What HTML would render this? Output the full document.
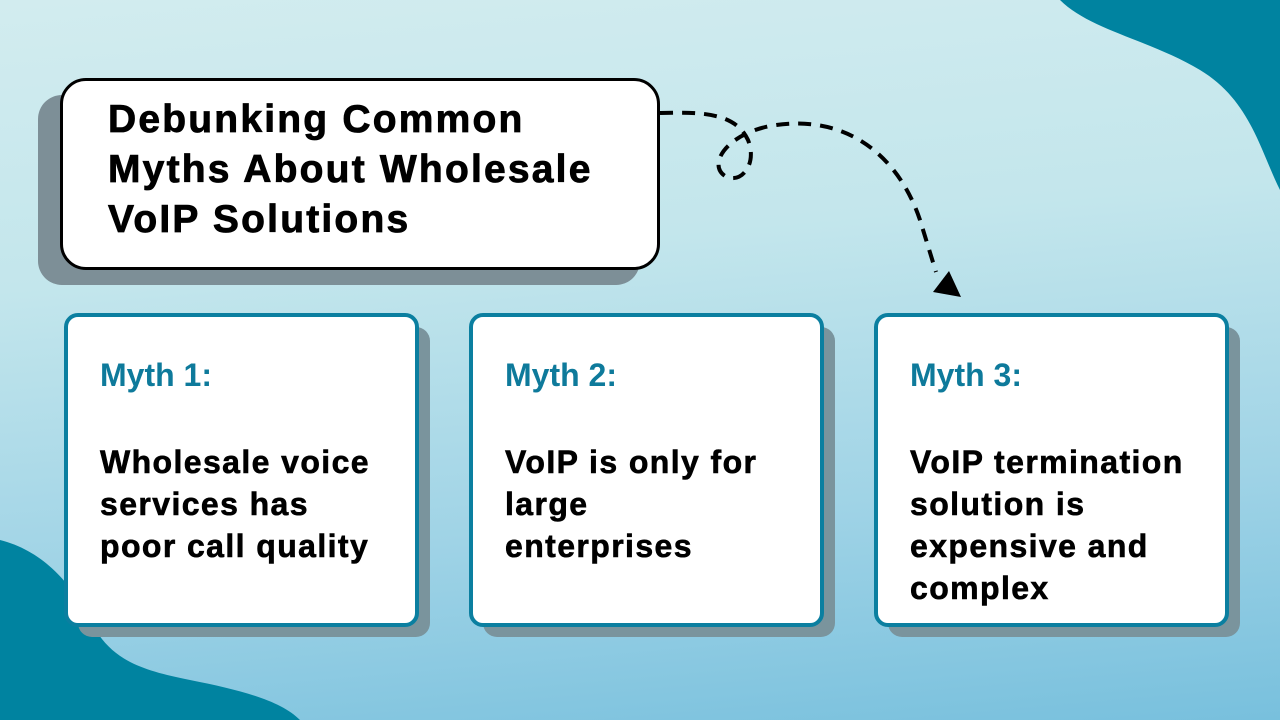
<!DOCTYPE html>
<html><head><meta charset="utf-8"><style>
body{margin:0;width:1280px;height:720px;overflow:hidden;position:relative;font-family:"Liberation Sans",sans-serif;
background:linear-gradient(175deg,#d2ecef 0%,#c3e6ec 35%,#9fd3e6 70%,#78c0dd 100%);}
.abs{position:absolute}
.tshadow{left:38px;top:95px;width:602px;height:190px;background:#7d8f97;border-radius:24px}
.title{left:60px;top:78px;width:594px;height:186px;background:#fff;border:3px solid #000;border-radius:26px}
.title div{position:absolute;left:45px;top:14px;font-size:39px;font-weight:bold;line-height:50px;color:#000;letter-spacing:2.2px;-webkit-text-stroke:0.8px #000}
.cs{width:352px;height:310px;background:#7a949d;border-radius:14px}
.card{width:347px;height:306px;background:#fff;border:4px solid #0b7fa0;border-radius:14px}
.card .h{position:absolute;left:32px;top:40px;font-size:32px;font-weight:bold;color:#0e7a9b}
.card .b{position:absolute;left:32px;top:124px;font-size:32px;font-weight:bold;line-height:42px;color:#000;letter-spacing:1.4px;-webkit-text-stroke:0.6px #000}
</style></head><body>
<svg class="abs" style="left:0;top:0" width="1280" height="720">
<path d="M1060,0 C1090,30 1150,40 1200,70 C1250,100 1260,150 1280,190 L1280,0Z" fill="#0083a0"/>
<path d="M0,540 C40,550 70,580 90,620 C110,660 140,670 190,680 C240,690 280,700 300,720 L0,720Z" fill="#0083a0"/>
</svg>
<div class="abs tshadow"></div>
<div class="abs title"><div>Debunking Common<br>Myths About Wholesale<br>VoIP Solutions</div></div>
<svg class="abs" style="left:0;top:0" width="1280" height="720">
<path d="M660,113 C700,112 735,112 748,140 C758,165 740,185 725,176 C708,165 725,135 770,126 C850,112 900,160 920,220 L936,272" fill="none" stroke="#000" stroke-width="4" stroke-dasharray="13,9"/>
<path d="M933,292 L961,297 L949,271Z" fill="#000"/>
</svg>
<div class="abs cs" style="left:78px;top:327px"></div>
<div class="abs card" style="left:64px;top:313px"><div class="h">Myth 1:</div><div class="b">Wholesale voice<br>services has<br>poor call quality</div></div>
<div class="abs cs" style="left:483px;top:327px"></div>
<div class="abs card" style="left:469px;top:313px"><div class="h">Myth 2:</div><div class="b">VoIP is only for<br>large<br>enterprises</div></div>
<div class="abs cs" style="left:888px;top:327px"></div>
<div class="abs card" style="left:874px;top:313px"><div class="h">Myth 3:</div><div class="b">VoIP termination<br>solution is<br>expensive and<br>complex</div></div>
</body></html>
